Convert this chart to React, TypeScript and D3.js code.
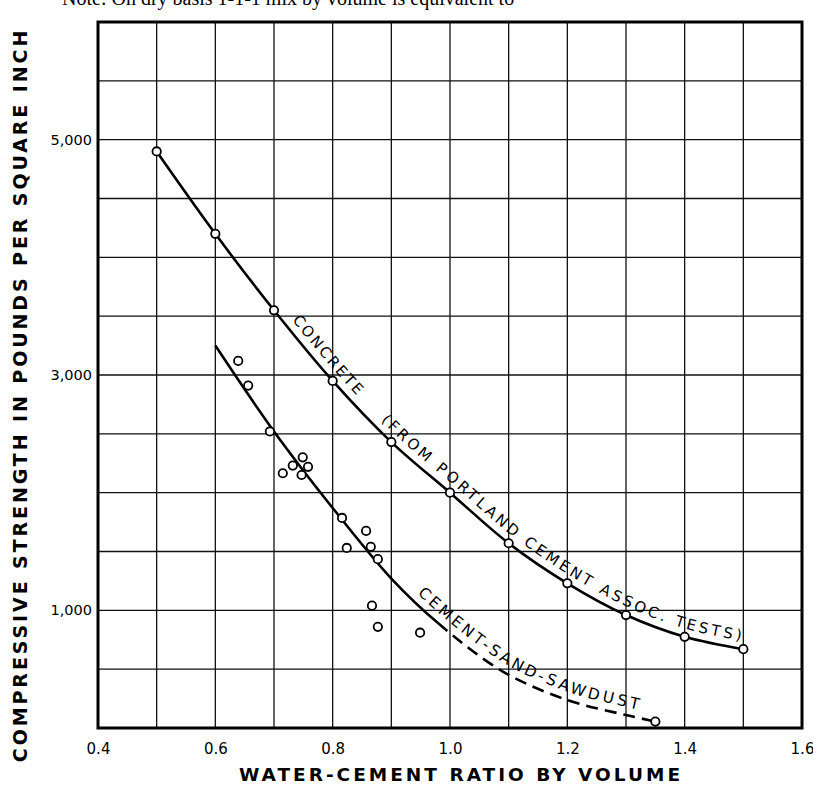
import { useEffect, useRef } from "react"
import * as d3 from "d3"

// concrete curve (Portland Cement Assoc. tests)
const concreteRatio = [0.5, 0.6, 0.7, 0.8, 0.9, 1.0, 1.1, 1.2, 1.3, 1.4, 1.5]
const concreteStrength = [4900, 4200, 3550, 2950, 2430, 2000, 1570, 1230, 960, 775, 670]

// cement-sand-sawdust test points
const sawdustRatio = [0.639, 0.656, 0.693, 0.749, 0.732, 0.758, 0.715, 0.747, 0.816, 0.857, 0.824, 0.865, 0.877, 0.867, 0.877, 0.949, 1.35]
const sawdustStrength = [3120, 2910, 2520, 2300, 2230, 2220, 2165, 2150, 1785, 1675, 1530, 1540, 1435, 1040, 860, 810, 55]

// faired curve through the sawdust points (solid up to dashStart, dashed after)
const sawdustCurveRatio = [0.6, 0.7, 0.8, 0.9, 0.98, 1.09, 1.2, 1.3, 1.35]
const sawdustCurveStrength = [3250, 2520, 1870, 1270, 890, 480, 238, 110, 55]
const sawdustDashStart = 0.98

const xTicks = [0.4, 0.6, 0.8, 1.0, 1.2, 1.4, 1.6]
const yTicks = [1000, 3000, 5000]
const xGrid = [0.5, 0.6, 0.7, 0.8, 0.9, 1.0, 1.1, 1.2, 1.3, 1.4, 1.5]
const yGrid = [500, 1000, 1500, 2000, 2500, 3000, 3500, 4000, 4500, 5000, 5500]

const xTitle = "WATER-CEMENT RATIO BY VOLUME"
const yTitle = "COMPRESSIVE STRENGTH IN POUNDS PER SQUARE INCH"
const note = "Note: On dry basis 1-1-1 mix by volume is equivalent to"
const concreteLabel = "CONCRETE"
const concreteSource = "(FROM PORTLAND CEMENT ASSOC. TESTS)"
const sawdustLabel = "CEMENT-SAND-SAWDUST"

const W = 813
const H = 785
const FONT = "'DejaVu Sans', sans-serif"

const Chart = () => {
  const svgRef = useRef<SVGSVGElement>(null)

  useEffect(() => {
    const svg = d3.select(svgRef.current)
    svg.selectAll("*").remove()

    const x = d3.scaleLinear().domain([0.4, 1.6]).range([98, 802])
    const y = d3.scaleLinear().domain([0, 6000]).range([728, 22])

    svg.append("rect").attr("width", W).attr("height", H).attr("fill", "#fff")

    // note at the top, cut off by the page edge
    svg.append("text")
      .attr("x", 62).attr("y", 5)
      .attr("font-family", "'Liberation Serif', serif")
      .attr("font-size", 20)
      .text(note)

    // grid
    svg.append("g").selectAll("line").data(xGrid).join("line")
      .attr("x1", d => x(d)).attr("x2", d => x(d))
      .attr("y1", y(6000)).attr("y2", y(0))
      .attr("stroke", "#111").attr("stroke-width", 1.3)
    svg.append("g").selectAll("line").data(yGrid).join("line")
      .attr("x1", x(0.4)).attr("x2", x(1.6))
      .attr("y1", d => y(d)).attr("y2", d => y(d))
      .attr("stroke", "#111").attr("stroke-width", 1.3)

    svg.append("rect")
      .attr("x", x(0.4)).attr("y", y(6000))
      .attr("width", x(1.6) - x(0.4)).attr("height", y(0) - y(6000))
      .attr("fill", "none").attr("stroke", "#000").attr("stroke-width", 3)

    // axes
    const xAxis = svg.append("g")
      .attr("transform", `translate(0, ${y(0)})`)
      .call(d3.axisBottom(x).tickValues(xTicks).tickSize(0).tickPadding(15).tickFormat(d3.format(".1f")))
    xAxis.select(".domain").remove()
    xAxis.selectAll("text").attr("font-family", FONT).attr("font-size", 15).attr("fill", "#000")

    const yAxis = svg.append("g")
      .attr("transform", `translate(${x(0.4)}, 0)`)
      .call(d3.axisLeft(y).tickValues(yTicks).tickSize(0).tickPadding(6).tickFormat(d3.format(",")))
    yAxis.select(".domain").remove()
    yAxis.selectAll("text").attr("font-family", FONT).attr("font-size", 14.5).attr("fill", "#000")

    svg.append("text")
      .attr("x", 461).attr("y", 781)
      .attr("text-anchor", "middle")
      .attr("font-family", FONT).attr("font-weight", "bold")
      .attr("font-size", 18.5).attr("letter-spacing", 3)
      .text(xTitle)

    svg.append("text")
      .attr("transform", `translate(27, 395) rotate(-90)`)
      .attr("text-anchor", "middle")
      .attr("font-family", FONT).attr("font-weight", "bold")
      .attr("font-size", 19).attr("letter-spacing", 2.9)
      .text(yTitle)

    const line = d3.line<[number, number]>()
      .x(d => x(d[0]))
      .y(d => y(d[1]))
      .curve(d3.curveCatmullRom.alpha(0.5))

    const concreteData = concreteRatio.map((r, i) => [r, concreteStrength[i]] as [number, number])
    const sawdustCurve = sawdustCurveRatio.map((r, i) => [r, sawdustCurveStrength[i]] as [number, number])

    const concretePath = svg.append("path")
      .attr("id", "concrete-curve")
      .attr("d", line(concreteData))
      .attr("fill", "none").attr("stroke", "#000").attr("stroke-width", 2.6)

    // sawdust curve: solid part then dashed part, on one path
    const sawdustPath = svg.append("path")
      .attr("id", "sawdust-curve")
      .attr("d", line(sawdustCurve))
      .attr("fill", "none")
    const sawdustNode = sawdustPath.node() as SVGPathElement

    // find the length along a path at which it reaches a given x position
    const lengthAtX = (node: SVGPathElement, px: number) => {
      let lo = 0
      let hi = node.getTotalLength()
      for (let k = 0; k < 40; k++) {
        const mid = (lo + hi) / 2
        if (node.getPointAtLength(mid).x < px) lo = mid
        else hi = mid
      }
      return lo
    }

    const total = sawdustNode.getTotalLength()
    const solidLen = lengthAtX(sawdustNode, x(sawdustDashStart))
    svg.append("path")
      .attr("d", line(sawdustCurve))
      .attr("fill", "none").attr("stroke", "#000").attr("stroke-width", 2.6)
      .attr("stroke-dasharray", `${solidLen} ${total}`)
    const dashes: number[] = [0, solidLen]
    let run = solidLen
    while (run < total + 20) {
      dashes.push(12, 7)
      run += 19
    }
    svg.append("path")
      .attr("d", line(sawdustCurve))
      .attr("fill", "none").attr("stroke", "#000").attr("stroke-width", 2.6)
      .attr("stroke-dasharray", dashes.join(" "))

    // labels written along the curves
    const concreteNode = concretePath.node() as SVGPathElement
    const label = (id: string, node: SVGPathElement, at: number, txt: string, spacing: number, size: number) => {
      svg.append("text")
        .attr("font-family", FONT).attr("font-size", size)
        .attr("letter-spacing", spacing)
        .attr("dy", -8)
        .append("textPath")
        .attr("href", `#${id}`)
        .attr("startOffset", lengthAtX(node, x(at)))
        .text(txt)
    }
    label("concrete-curve", concreteNode, 0.72, concreteLabel, 2.5, 15)
    label("concrete-curve", concreteNode, 0.872, concreteSource, 3.3, 15)
    label("sawdust-curve", sawdustNode, 0.935, sawdustLabel, 3.4, 15.5)

    // markers
    svg.append("g").selectAll("circle").data(concreteData).join("circle")
      .attr("cx", d => x(d[0])).attr("cy", d => y(d[1])).attr("r", 4.2)
      .attr("fill", "#fff").attr("stroke", "#000").attr("stroke-width", 1.8)
    svg.append("g").selectAll("circle").data(sawdustRatio).join("circle")
      .attr("cx", d => x(d)).attr("cy", (d, i) => y(sawdustStrength[i])).attr("r", 4.2)
      .attr("fill", "#fff").attr("stroke", "#000").attr("stroke-width", 1.8)
  }, [])

  return <svg ref={svgRef} width={W} height={H} style={{ position: "absolute", left: 0, top: 0 }} />
}

export default function App() {
  return <Chart />
}
